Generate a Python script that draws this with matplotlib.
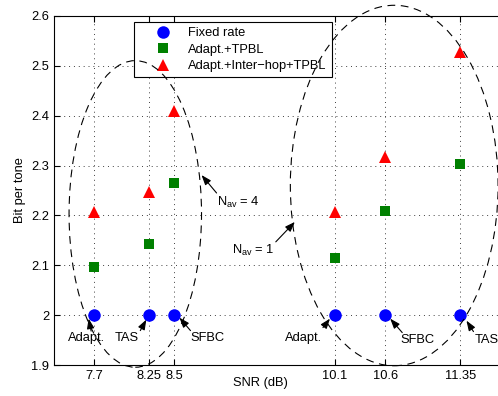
import matplotlib
matplotlib.use("agg")
import numpy as np
import matplotlib.pyplot as plt
from matplotlib.patches import Ellipse

plt.rcParams['font.family'] = ['Liberation Sans', 'DejaVu Sans']
plt.rcParams['mathtext.default'] = 'regular'

# data
snr = [7.7, 8.25, 8.5, 10.1, 10.6, 11.35]
fixed_rate = [2.0, 2.0, 2.0, 2.0, 2.0, 2.0]
adapt_tpbl = [2.097, 2.143, 2.265, 2.114, 2.209, 2.303]
adapt_hop_tpbl = [2.207, 2.246, 2.409, 2.207, 2.317, 2.527]

xticks = [7.7, 8.25, 8.5, 10.1, 10.6, 11.35]
xticklabels = ['7.7', '8.25', '8.5', '10.1', '10.6', '11.35']
yticks = [1.9, 2.0, 2.1, 2.2, 2.3, 2.4, 2.5, 2.6]
yticklabels = ['1.9', '2', '2.1', '2.2', '2.3', '2.4', '2.5', '2.6']

# scheme labels: (text, text pos, arrow tail, arrow head)
labels = [
    ('Adapt.', (7.62, 1.954), (7.67, 1.968), (7.645, 1.993)),
    ('TAS', (8.02, 1.954), (8.16, 1.969), (8.22, 1.991)),
    ('SFBC', (8.83, 1.954), (8.66, 1.969), (8.55, 1.995)),
    ('Adapt.', (9.79, 1.954), (9.98, 1.975), (10.05, 1.993)),
    ('SFBC', (10.92, 1.950), (10.77, 1.965), (10.65, 1.993)),
    ('TAS', (11.61, 1.950), (11.48, 1.967), (11.41, 1.989)),
]
nav = [
    (r'N$_{av}$ = 4', (8.926, 2.219), (8.92, 2.245), (8.77, 2.281)),
    (r'N$_{av}$ = 1', (9.075, 2.123), (9.51, 2.147), (9.70, 2.187)),
]
# ellipses: centre, width, height
ellipses = [((8.11, 2.203), 1.32, 0.615), ((10.69, 2.26), 2.07, 0.723)]

fs = 9.3
fig = plt.figure(figsize=(4.98, 3.96), dpi=100)
ax = fig.add_axes([54/498, 31/396, 451.6/498, 349/396])

l1, = ax.plot(snr, fixed_rate, 'o', color='blue', markersize=9, markeredgewidth=0, label='Fixed rate')
l2, = ax.plot(snr, adapt_tpbl, 's', color=(0, 0.5, 0), markersize=6.5, markeredgewidth=0, label='Adapt.+TPBL')
l3, = ax.plot(snr, adapt_hop_tpbl, '^', color='red', markersize=9, markeredgewidth=0,
              label='Adapt.+Inter\u2212hop+TPBL')

ax.set_xlim(7.3, 11.8)
ax.set_ylim(1.9, 2.6)
ax.set_xticks(xticks)
ax.set_xticklabels(xticklabels)
ax.set_yticks(yticks)
ax.set_yticklabels(yticklabels)
ax.tick_params(axis='both', direction='in', length=4, width=0.8, labelsize=fs, top=True, right=True, pad=3.5)
ax.grid(True, linestyle=(0, (1, 4)), linewidth=0.7, color='0.25')
for s in ax.spines.values():
    s.set_linewidth(0.8)

ax.set_xlabel('SNR (dB)', fontsize=fs)
ax.xaxis.set_label_coords(0.458, -0.035)
ax.set_ylabel('Bit per tone', fontsize=fs)

leg = ax.legend(handles=[l1, l2, l3], loc='upper left', bbox_to_anchor=(0.177, 0.983),
                borderaxespad=0, fontsize=fs, numpoints=1, handlelength=3.7,
                handletextpad=0.1, borderpad=0.4, labelspacing=0.35,
                fancybox=False, framealpha=1, edgecolor='k')
leg.get_frame().set_linewidth(0.8)
leg.set_zorder(4)

for (c, w, h) in ellipses:
    e = Ellipse(c, w, h, fill=False, edgecolor='k', linewidth=0.8,
                linestyle=(0, (7, 5)), clip_on=False, zorder=6)
    ax.add_patch(e)

arrow = dict(arrowstyle='-|>,head_length=0.6,head_width=0.22', color='k', lw=0.8,
             shrinkA=0, shrinkB=0)
for txt, pos, tail, head in labels:
    ax.text(pos[0], pos[1], txt, fontsize=fs, ha='center', va='center', zorder=7)
    ax.annotate('', xy=head, xytext=tail, arrowprops=arrow, zorder=7, annotation_clip=False)

for txt, pos, tail, head in nav:
    ax.text(pos[0], pos[1], txt, fontsize=fs, ha='left', va='baseline', zorder=7)
    ax.annotate('', xy=head, xytext=tail, arrowprops=arrow, zorder=7, annotation_clip=False)

fig.savefig('out.png', dpi=100)
